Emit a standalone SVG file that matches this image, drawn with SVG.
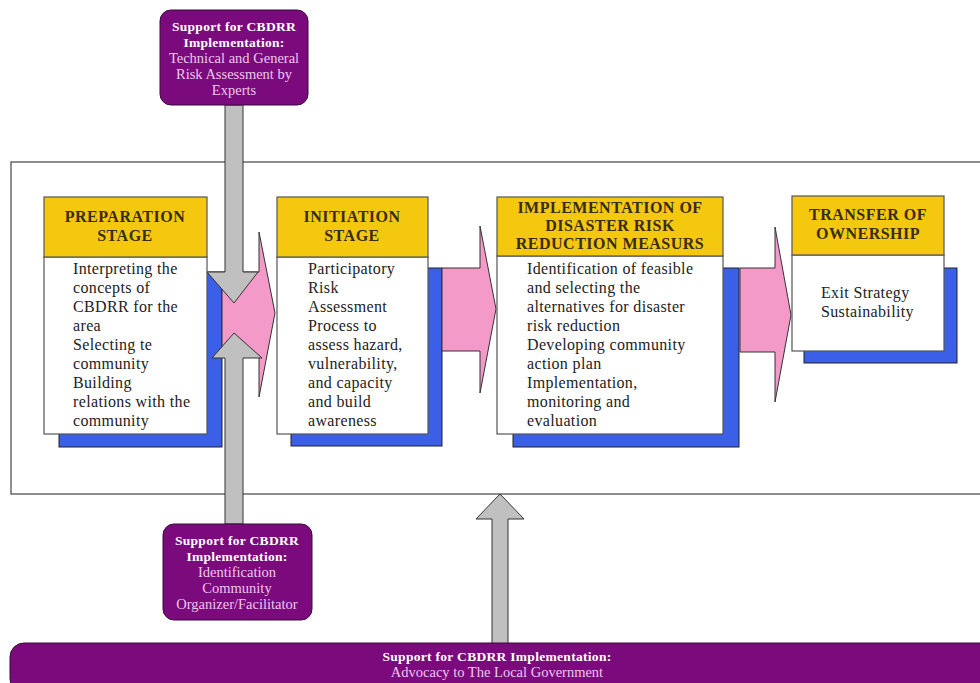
<svg xmlns="http://www.w3.org/2000/svg" width="980" height="683" viewBox="0 0 980 683">
  <style>
    .frame { fill: #ffffff; stroke: #444; stroke-width: 1.2; }
    .shadow { fill: #3b5fe6; stroke: #222; stroke-width: 1; }
    .body { fill: #ffffff; stroke: #555; stroke-width: 1.2; }
    .head { fill: #f3c80f; stroke: #555; stroke-width: 1.2; }
    .flow { fill: #f39ac8; stroke: #333; stroke-width: 1; }
    .support { fill: #c0c0c0; stroke: #333; stroke-width: 1; }
    .purple { fill: #7b0a7c; stroke: #3a0a3a; stroke-width: 1; }
    .ht { font-family: "Liberation Serif", "DejaVu Serif", serif; font-weight: bold; font-size: 16px; letter-spacing: 0.5px; fill: #3a2c12; text-anchor: middle; }
    .bt { font-family: "Liberation Serif", "DejaVu Serif", serif; font-size: 16px; letter-spacing: 0.35px; fill: #222; }
    .pb { font-family: "Liberation Serif", "DejaVu Serif", serif; font-weight: bold; font-size: 13.5px; letter-spacing: 0.3px; fill: #ffffff; text-anchor: middle; }
    .pn { font-family: "Liberation Serif", "DejaVu Serif", serif; font-size: 14.5px; fill: #ecc8ec; text-anchor: middle; }
  </style>

  <!-- outer process frame -->
  <rect class="frame" x="11" y="162" width="980" height="332"/>

  <!-- drop shadows behind stage bodies -->
  <rect class="shadow" x="59" y="272" width="163" height="175"/>
  <rect class="shadow" x="291" y="268" width="151" height="178"/>
  <rect class="shadow" x="513" y="268" width="226" height="179"/>
  <rect class="shadow" x="804" y="268" width="153" height="95"/>

  <g id="connectors">
    <!-- stage-to-stage flow arrows -->
    <polygon class="flow" points="222,272 259,272 259,232 275,313 259,397 259,355 222,355"/>
    <polygon class="flow" points="442,268 480,268 480,226 496,309 480,393 480,351 442,351"/>
    <polygon class="flow" points="740,268 775,268 775,227 791,315 775,402 775,352 740,352"/>
    <!-- support arrows -->
    <polygon class="support" points="225,105 243,105 243,272 258,272 234,303 207,272 225,272"/>
    <polygon class="support" points="225,524 225,358 212,358 234,333 262,358 243,358 243,524"/>
    <polygon class="support" points="492,644 492,519 476,519 500,494 524,519 508,519 508,644"/>
  </g>

  <g id="preparation">
    <rect class="body" x="44" y="257" width="163" height="177"/>
    <rect class="head" x="44" y="197" width="163" height="60"/>
    <text class="ht" x="125" y="222">PREPARATION</text>
    <text class="ht" x="125" y="241">STAGE</text>
    <text class="bt" x="73" y="274">Interpreting the</text>
    <text class="bt" x="73" y="293">concepts of</text>
    <text class="bt" x="73" y="312">CBDRR for the</text>
    <text class="bt" x="73" y="331">area</text>
    <text class="bt" x="73" y="350">Selecting te</text>
    <text class="bt" x="73" y="369">community</text>
    <text class="bt" x="73" y="388">Building</text>
    <text class="bt" x="73" y="407">relations with the</text>
    <text class="bt" x="73" y="426">community</text>
  </g>

  <g id="initiation">
    <rect class="body" x="277" y="257" width="151" height="177"/>
    <rect class="head" x="277" y="197" width="151" height="60"/>
    <text class="ht" x="352" y="222">INITIATION</text>
    <text class="ht" x="352" y="241">STAGE</text>
    <text class="bt" x="308" y="274">Participatory</text>
    <text class="bt" x="308" y="293">Risk</text>
    <text class="bt" x="308" y="312">Assessment</text>
    <text class="bt" x="308" y="331">Process to</text>
    <text class="bt" x="308" y="350">assess hazard,</text>
    <text class="bt" x="308" y="369">vulnerability,</text>
    <text class="bt" x="308" y="388">and capacity</text>
    <text class="bt" x="308" y="407">and build</text>
    <text class="bt" x="308" y="426">awareness</text>
  </g>

  <g id="implementation">
    <rect class="body" x="497" y="256" width="226" height="178"/>
    <rect class="head" x="497" y="197" width="226" height="59"/>
    <text class="ht" x="610" y="213">IMPLEMENTATION OF</text>
    <text class="ht" x="610" y="231">DISASTER RISK</text>
    <text class="ht" x="610" y="249">REDUCTION MEASURS</text>
    <text class="bt" x="527" y="274">Identification of feasible</text>
    <text class="bt" x="527" y="293">and selecting the</text>
    <text class="bt" x="527" y="312">alternatives for disaster</text>
    <text class="bt" x="527" y="331">risk reduction</text>
    <text class="bt" x="527" y="350">Developing community</text>
    <text class="bt" x="527" y="369">action plan</text>
    <text class="bt" x="527" y="388">Implementation,</text>
    <text class="bt" x="527" y="407">monitoring and</text>
    <text class="bt" x="527" y="426">evaluation</text>
  </g>

  <g id="transfer">
    <rect class="body" x="792" y="255" width="152" height="96"/>
    <rect class="head" x="792" y="196" width="152" height="59"/>
    <text class="ht" x="868" y="220">TRANSFER OF</text>
    <text class="ht" x="868" y="239">OWNERSHIP</text>
    <text class="bt" x="821" y="298">Exit Strategy</text>
    <text class="bt" x="821" y="317">Sustainability</text>
  </g>

  <g id="support-experts">
    <rect class="purple" x="160" y="10" width="148" height="95" rx="11"/>
    <text class="pb" x="234" y="31">Support for CBDRR</text>
    <text class="pb" x="234" y="47">Implementation:</text>
    <text class="pn" x="234" y="63">Technical and General</text>
    <text class="pn" x="234" y="79">Risk Assessment by</text>
    <text class="pn" x="234" y="95">Experts</text>
  </g>

  <g id="support-organizer">
    <rect class="purple" x="163" y="524" width="149" height="96" rx="11"/>
    <text class="pb" x="237" y="545">Support for CBDRR</text>
    <text class="pb" x="237" y="561">Implementation:</text>
    <text class="pn" x="237" y="577">Identification</text>
    <text class="pn" x="237" y="593">Community</text>
    <text class="pn" x="237" y="609">Organizer/Facilitator</text>
  </g>

  <g id="support-advocacy">
    <rect class="purple" x="10" y="643" width="990" height="50" rx="14"/>
    <text class="pb" x="497" y="661">Support for CBDRR Implementation:</text>
    <text class="pn" x="497" y="677">Advocacy to The Local Government</text>
  </g>
</svg>
